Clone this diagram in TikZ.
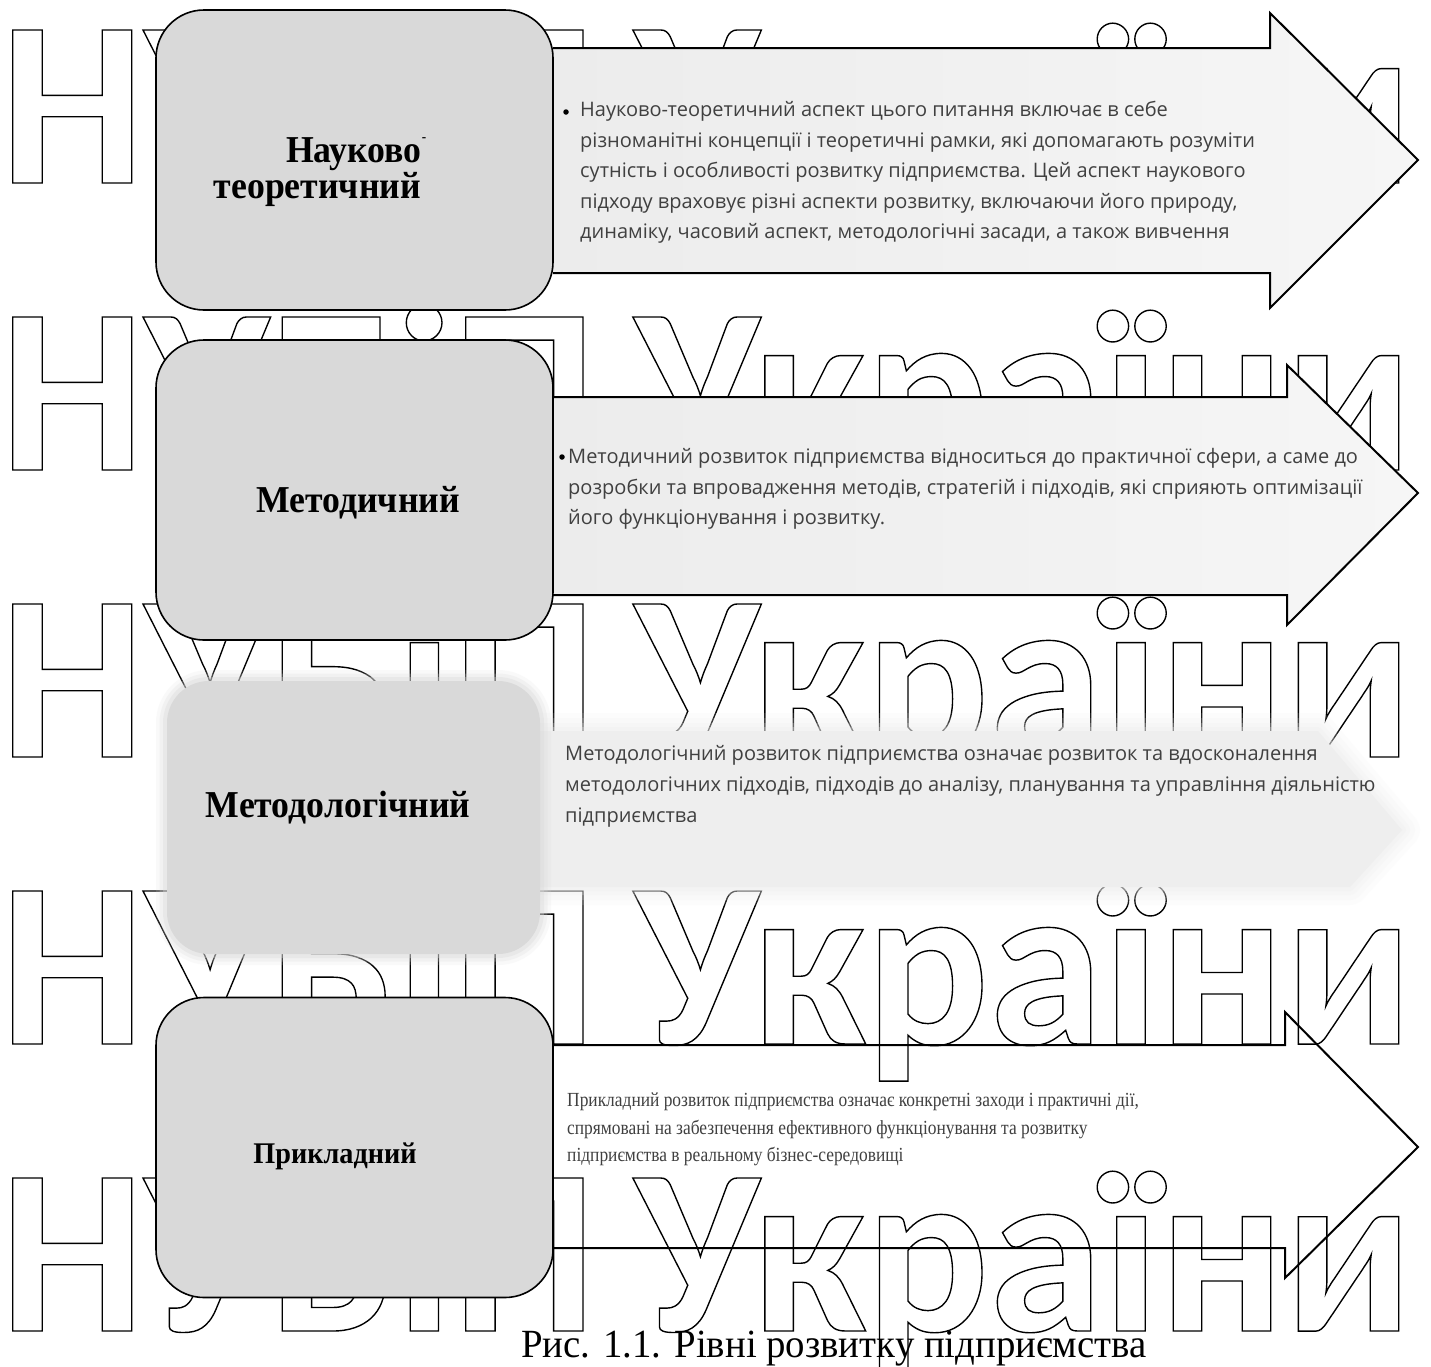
\documentclass[tikz,border=0pt]{standalone}
\usepackage{fontspec}
\usepackage{graphicx}
\setmainfont{Liberation Serif}
\newfontfamily\bodyfont{Open Sans}
\newfontfamily\lblfont[FakeStretch=0.94]{Liberation Serif}
\newfontfamily\capfont[FakeStretch=0.97]{Liberation Serif}
\newfontfamily\serffont[FakeStretch=0.87]{Liberation Serif}
\newfontfamily\wmfont{Carlito}
\definecolor{boxgray}{HTML}{D9D9D9}
\definecolor{arrowfillL}{HTML}{ECECEC}
\definecolor{arrowfillR}{HTML}{F6F6F6}
\definecolor{softfill}{HTML}{EEEEEE}
\definecolor{bodytext}{HTML}{404040}
\newcommand{\wmword}[2]{\resizebox{#1}{\height}{\special{pdf:literal direct 1 Tr 1.4 w}\wmfont\bfseries\fontsize{236}{236}\selectfont #2}}
\tikzset{
  levelbox/.style={draw=black, line width=1.6pt, fill=boxgray, rounded corners=48pt,
    minimum width=397pt, minimum height=300pt, inner sep=0pt},
  arrowline/.style={draw=black, line width=2pt, line join=miter},
  arrowbody/.style={left color=arrowfillL, right color=arrowfillR},
  bodytxt/.style={font=\bodyfont\fontsize{20}{20}\selectfont, text=bodytext, inner sep=0pt, anchor=base west},
  serftxt/.style={font=\serffont\fontsize{20}{20}\selectfont, text=bodytext, inner sep=0pt, anchor=base west},
  lbl/.style={font=\lblfont\bfseries\fontsize{38}{38}\selectfont, inner sep=0pt, anchor=base},
  bulletdot/.style={circle, fill=black, inner sep=0pt, minimum size=5.5pt},
  wm/.style={inner sep=0pt, anchor=base west},
}
\begin{document}
\begin{tikzpicture}[x=1pt,y=-1pt]
\useasboundingbox (0,0) rectangle (1431,1366);
\fill[white] (0,0) rectangle (1431,1366);

% watermark rows
\foreach \k in {0,...,4}{
  \node[wm] (wmA\k) at (0,183+287*\k) {\wmword{596pt}{НУБіП}};
  \node[wm] (wmB\k) at (634,183+287*\k) {\wmword{778pt}{України}};
}

% arrow 1
\fill[arrowbody] (553,48) -- (1270,48) -- (1270,13) -- (1418,160) -- (1270,308) -- (1270,273) -- (553,273) -- cycle;
\draw[arrowline] (553,48) -- (1270,48) -- (1270,13) -- (1418,160) -- (1270,308) -- (1270,273) -- (553,273);
% arrow 2
\fill[arrowbody] (553,397) -- (1287,397) -- (1287,365) -- (1418,493) -- (1287,625) -- (1287,595) -- (553,595) -- cycle;
\draw[arrowline] (553,397) -- (1287,397) -- (1287,365) -- (1418,493) -- (1287,625) -- (1287,595) -- (553,595);
% arrow 3 (soft, no outline)
\foreach \w/\o in {36/0.12,26/0.16,16/0.22,8/0.3}{
  \draw[softfill, line width=\w pt, opacity=\o, line join=round]
    (520,731) -- (1318,731) -- (1402,830) -- (1350,887) -- (520,887) -- cycle;
}
\fill[softfill] (520,731) -- (1318,731) -- (1402,830) -- (1350,887) -- (520,887) -- cycle;
% arrow 4 (outline only)
\draw[arrowline] (553,1045) -- (1285,1045) -- (1285,1012) -- (1418,1147) -- (1285,1278) -- (1285,1248) -- (553,1248);

% level boxes
\node[levelbox] (b1) at (354.5,160) {};
\node[levelbox] (b2) at (354.5,490) {};
\foreach \w/\o in {22/0.15,15/0.22,8/0.35}{
  \draw[boxgray, line width=\w pt, opacity=\o, rounded corners=42pt] (167,681) rectangle (540,954);
}
\fill[boxgray, rounded corners=42pt] (167,681) rectangle (540,954);
\coordinate (b3) at (353.5,817.5);
\node[levelbox] (b4) at (354.5,1147.5) {};

% box labels
\node[lbl, anchor=base east] (l1a) at (422,162) {Науково\rlap{\raisebox{0.55em}{\fontsize{14}{14}\selectfont -}}};
\node[lbl, anchor=base east] (l1b) at (421,198) {теоретичний};
\node[lbl] (l2) at (358,512) {Методичний};
\node[lbl] (l3) at (338,817) {Методологічний};
\node[lbl, font=\lblfont\bfseries\fontsize{30}{30}\selectfont] (l4) at (335,1163) {Прикладний};

% arrow 1 text
\node[bulletdot] (d1) at (566,112) {};
\node[bodytxt] (t1a) at (580,116) {Науково-теоретичний аспект цього питання включає в себе};
\node[bodytxt] (t1b) at (580,147) {різноманітні концепції і теоретичні рамки, які допомагають розуміти};
\node[bodytxt] (t1c) at (580,177) {сутність і особливості розвитку підприємства. Цей аспект наукового};
\node[bodytxt] (t1d) at (580,208) {підходу враховує різні аспекти розвитку, включаючи його природу,};
\node[bodytxt] (t1e) at (580,238) {динаміку, часовий аспект, методологічні засади, а також вивчення};

% arrow 2 text
\node[bulletdot] (d2) at (562,457) {};
\node[bodytxt] (t2a) at (568,463) {Методичний розвиток підприємства відноситься до практичної сфери, а саме до};
\node[bodytxt] (t2b) at (568,494) {розробки та впровадження методів, стратегій і підходів, які сприяють оптимізації};
\node[bodytxt] (t2c) at (568,524) {його функціонування і розвитку.};

% arrow 3 text
\node[bodytxt] (t3a) at (565,760) {Методологічний розвиток підприємства означає розвиток та вдосконалення};
\node[bodytxt] (t3b) at (565,791) {методологічних підходів, підходів до аналізу, планування та управління діяльністю};
\node[bodytxt] (t3c) at (565,822) {підприємства};

% arrow 4 text
\node[serftxt] (t4a) at (567,1106) {Прикладний розвиток підприємства означає конкретні заходи і практичні дії,};
\node[serftxt] (t4b) at (567,1134) {спрямовані на забезпечення ефективного функціонування та розвитку};
\node[serftxt] (t4c) at (567,1161) {підприємства в реальному бізнес-середовищі};

% caption
\node[font=\capfont\fontsize{40}{40}\selectfont, inner sep=0pt, anchor=base] (cap) at (834,1357) {Рис. 1.1. Рівні розвитку підприємства};
\end{tikzpicture}
\end{document}
